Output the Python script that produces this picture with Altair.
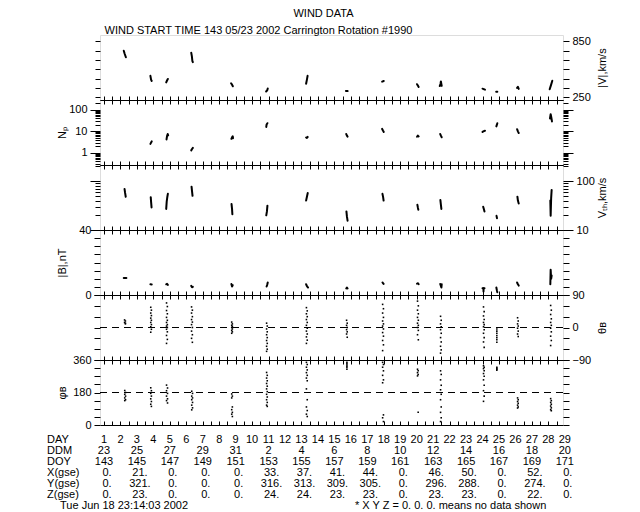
import altair as alt
import pandas as pd

FONT = "Liberation Sans"
W = 463          # plot width (px)
PH = 65          # height of one panel (px)
NPAN = 6
X_DOMAIN = [0.757, 28.89]          # day-of-rotation axis
X_TICKS = [1.0 + 0.5 * k for k in range(56)]

# ---------------- data ----------------
# |V| km/s : short traces (t, value)
V_BLOBS = [
    [(2.20, 750), (2.26, 715), (2.33, 680)],
    [(3.82, 480), (3.86, 440), (3.90, 425)],
    [(4.78, 410), (4.83, 430), (4.88, 447)],
    [(6.30, 730), (6.34, 690), (6.37, 640), (6.40, 628)],
    [(8.72, 400), (8.78, 385), (8.83, 368)],
    [(10.85, 312), (10.92, 325), (10.95, 343)],
    [(13.28, 395), (13.33, 440), (13.37, 480)],
    [(15.70, 318), (15.80, 316)],
    [(17.90, 418), (18.00, 425)],
    [(20.02, 390), (20.07, 375), (20.12, 360)],
    [(21.40, 370), (21.45, 395), (21.47, 420), (21.52, 372)],
    [(24.00, 342), (24.10, 335), (24.15, 332)],
    [(24.83, 309), (24.90, 309)],
    [(26.10, 350), (26.15, 362), (26.20, 340)],
    [(28.08, 336), (28.16, 380), (28.24, 427)],
]
# Np (cm^-3)
NP_BLOBS = [
    [(3.82, 2.6), (3.86, 3.0), (3.90, 3.4)],
    [(4.80, 4.2), (4.83, 6.0), (4.87, 7.5), (4.90, 6.5)],
    [(6.30, 1.3), (6.35, 1.5), (6.40, 1.7)],
    [(8.74, 4.5), (8.78, 5.3), (8.82, 5.9), (8.84, 4.8)],
    [(10.86, 16), (10.88, 21), (10.93, 24)],
    [(13.28, 5.2), (13.33, 4.9), (13.38, 5.5)],
    [(15.72, 7.5), (15.76, 6.3), (15.80, 5.7)],
    [(17.90, 13), (17.95, 11), (18.00, 9.4)],
    [(20.02, 5.6), (20.07, 6.3), (20.12, 5.8)],
    [(21.43, 7.5), (21.47, 6.3), (21.52, 5.3)],
    [(24.00, 9.4), (24.08, 10.2), (24.15, 10.7)],
    [(24.84, 17), (24.87, 20), (24.90, 24)],
    [(26.10, 12.6), (26.15, 10), (26.20, 8.4)],
    [(28.10, 40), (28.14, 63), (28.18, 45), (28.22, 29)],
]
# Vth km/s
VTH_BLOBS = [
    [(2.25, 69), (2.28, 58), (2.32, 48)],
    [(3.84, 47), (3.86, 38), (3.89, 29)],
    [(4.78, 27), (4.81, 38), (4.85, 48), (4.88, 55)],
    [(6.32, 77), (6.35, 62), (6.38, 50)],
    [(8.75, 34), (8.78, 27), (8.80, 21)],
    [(10.86, 20), (10.90, 24), (10.93, 31.5)],
    [(13.28, 40), (13.33, 48), (13.38, 57)],
    [(15.73, 24), (15.76, 19), (15.80, 15.5)],
    [(17.92, 55), (17.96, 47), (17.99, 40)],
    [(20.04, 33), (20.07, 29), (20.10, 26)],
    [(21.44, 41), (21.47, 33), (21.50, 27)],
    [(24.04, 30), (24.08, 27), (24.12, 24)],
    [(24.85, 19.5), (24.88, 17.4)],
    [(26.12, 48), (26.15, 40), (26.20, 35)],
    [(28.12, 40), (28.14, 19.5), (28.17, 45), (28.20, 66)],
]
# |B| nT
B_BLOBS = [
    [(2.20, 10.4), (2.36, 10.4)],
    [(3.82, 6.6), (3.90, 6.5)],
    [(4.78, 6.6), (4.83, 6.9), (4.88, 6.2)],
    [(6.30, 5.6), (6.35, 4.8), (6.40, 5.0)],
    [(8.74, 6.8), (8.78, 5.2), (8.82, 6.0)],
    [(10.88, 5.2), (10.92, 6.4), (10.95, 7.7)],
    [(13.28, 6.6), (13.33, 5.5), (13.40, 4.6)],
    [(15.72, 4.0), (15.76, 4.6), (15.80, 4.0)],
    [(17.92, 7.7), (17.96, 7.2), (17.99, 6.8)],
    [(20.02, 7.0), (20.08, 7.2), (20.12, 6.6)],
    [(21.43, 6.8), (21.47, 5.6), (21.50, 4.6), (21.52, 6.6)],
    [(24.00, 4.2), (24.12, 4.2)],
    [(24.06, 4.2), (24.06, 2.1)],
    [(24.84, 4.6), (24.87, 3.0), (24.90, 1.7)],
    [(26.10, 7.7), (26.15, 6.6), (26.20, 5.8)],
    [(28.12, 6.6), (28.14, 15.5), (28.17, 10), (28.20, 12)],
]
# theta_B (deg): dot columns (t, values)
THETA_COLS = [
    (2.25, [21, 14]), (2.30, [18, 12, 10]),
    (3.84, [56, 40, 26, 14, 2, -13]), (3.88, [48, 33, 20, 8, -5]),
    (4.80, [68, 47, 28, 14, 4, -5, -22, -44]), (4.85, [58, 38, 20, 8, 0, -12, -33]),
    (6.32, [57, 40, 22, 8, -10, -30]), (6.37, [48, 30, 15, 0, -20, -41]),
    (8.76, [15, 6, 0, -8, -16]), (8.80, [10, 3, -4, -12]),
    (10.88, [12, -4, -20, -36, -52, -66]), (10.92, [4, -12, -28, -44, -60]),
    (13.30, [55, 38, 22, 6, -10, -26, -44]), (13.35, [46, 30, 14, -2, -18, -35]),
    (15.74, [20, 6, -6, -18]), (15.78, [12, 0, -12, -27]),
    (17.93, [64, 40, 18, 4, -14, -36, -64]), (17.98, [52, 28, 10, -4, -24, -48]),
    (20.05, [73, 48, 28, 12, 0, -20]), (20.10, [60, 38, 20, 6, -8, -34]),
    (21.45, [31, 10, -6, -28, -52, -71]), (21.49, [20, 2, -16, -40, -62]),
    (24.06, [57, 32, 14, 2, -16, -40]), (24.10, [44, 22, 8, -6, -28, -55]),
    (24.87, [-4, -10, -16, -22, -28, -34, -41]),
    (26.13, [27, 10, -2, -18]), (26.17, [18, 4, -10, -25]),
    (28.14, [61, 36, 14, -2, -24, -50]), (28.18, [48, 24, 6, -12, -36]),
]
# phi_B (deg)
PHI_COLS = [
    (2.26, [191, 170, 150, 135]), (2.31, [180, 160, 140]),
    (3.84, [206, 175, 145, 115]), (3.88, [190, 160, 130, 103]),
    (4.80, [221, 190, 160, 135]), (4.86, [205, 175, 145, 122]),
    (6.33, [187, 160, 140, 110, 84]), (6.38, [175, 150, 125, 95]),
    (8.76, [172, 150, 85, 60]), (8.80, [160, 100, 70, 47]),
    (10.88, [291, 260, 230, 200, 170, 140, 110]), (10.92, [275, 245, 215, 185, 155, 125, 103]),
    (13.30, [347, 320, 290, 260, 200, 100, 60]), (13.35, [335, 305, 275, 245, 140, 80, 47]),
    (15.76, [347, 340, 332, 325, 318, 309]),
    (17.93, [347, 320, 275, 234, 40]), (17.98, [335, 300, 250, 56, 19]),
    (20.05, [309, 290, 272]), (20.09, [300, 280, 71]),
    (21.45, [300, 250, 195, 140, 70, 19]), (21.49, [280, 220, 170, 100, 40]),
    (24.06, [328, 312, 285, 250, 190, 131]), (24.10, [320, 300, 270, 220, 160]),
    (24.87, [319, 314, 309, 304]),
    (26.13, [150, 130, 110, 94]), (26.17, [140, 120, 100]),
    (28.14, [146, 125, 105, 85]), (28.18, [135, 115, 95, 79]),
]

# table below the plot
ROW_NAMES = ["DAY", "DDM", "DOY", "X(gse)", "Y(gse)", "Z(gse)"]
DAYS = [1, 2, 3, 4, 5, 6, 7, 8, 9, 10, 11, 12, 13, 14, 15, 16, 17, 18, 19, 20,
        21, 22, 23, 24, 25, 26, 27, 28, 29]
ODD_DAYS = [1, 3, 5, 7, 9, 11, 13, 15, 17, 19, 21, 23, 25, 27, 29]
DDM = [23, 25, 27, 29, 31, 2, 4, 6, 8, 10, 12, 14, 16, 18, 20]
DOY = [143, 145, 147, 149, 151, 153, 155, 157, 159, 161, 163, 165, 167, 169, 171]
XGSE = ["0.", "21.", "0.", "0.", "0.", "33.", "37.", "41.", "44.", "0.", "46.", "50.", "0.", "52.", "0."]
YGSE = ["0.", "321.", "0.", "0.", "0.", "316.", "313.", "309.", "305.", "0.", "296.", "288.", "0.", "274.", "0."]
ZGSE = ["0.", "23.", "0.", "0.", "0.", "24.", "24.", "23.", "23.", "0.", "23.", "23.", "0.", "22.", "0."]
FOOT_LEFT = "Tue Jun 18 23:14:03 2002"
FOOT_RIGHT = "* X Y Z = 0. 0. 0. means no data shown"
HEADER_T = -2.46
FOOT_LEFT_T = -1.67
FOOT_RIGHT_T = 16.25

TITLE = "WIND DATA"
SUBTITLE = "WIND START TIME 143 05/23 2002 Carrington Rotation #1990"

# ticks
V_TICKS = [250, 350, 450, 550, 650, 750, 850]
NP_MAJOR = [1, 10, 100]
NP_MINOR = [0.3, 0.4, 0.5, 0.6, 0.7, 0.8, 0.9, 2, 3, 4, 5, 6, 7, 8, 9,
            20, 30, 40, 50, 60, 70, 80, 90, 200]
VTH_MAJOR = [10, 100]
VTH_MINOR = [20, 30, 40, 50, 60, 70, 80, 90, 200]
B_TICKS = [0, 5, 10, 15, 20, 25, 30, 35, 40]
TH_TICKS = [-90, -60, -30, 0, 30, 60, 90]
PHI_TICKS = [0, 45, 90, 135, 180, 225, 270, 315, 360]


# ---------------- helpers ----------------
def blobs_df(blobs):
    rows = []
    for i, blob in enumerate(blobs):
        for t, v in blob:
            rows.append({"seg": i, "t": t, "v": v})
    return pd.DataFrame(rows)


def cols_df(cols):
    rows = []
    for t, vals in cols:
        for v in vals:
            rows.append({"t": t, "v": v})
    return pd.DataFrame(rows)


def xs():
    return alt.Scale(domain=X_DOMAIN, nice=False, zero=False)


def fmt(v):
    return ("\u2212" + str(abs(v))) if v < 0 else str(v)


def label_expr(vals):
    s = ""
    for v in vals:
        s += f"datum.value == {v} ? '{fmt(v)}' : "
    return s + "''"


def x_axis_up(edge):      # axis line at pixel row `edge`, ticks pointing up
    return alt.Axis(orient="top", offset=-edge, values=X_TICKS, tickSize=4,
                    tickColor="black", labels=False, title=None, domain=True,
                    domainColor="black", grid=False)


def x_axis_down(edge):    # axis line at pixel row `edge`, ticks pointing down
    return alt.Axis(orient="bottom", offset=-(NPAN * PH - edge), values=X_TICKS,
                    tickSize=4, tickColor="black", labels=False, title=None,
                    domain=True, domainColor="black", grid=False)


def title_axis(text, tx, ty, align):
    return alt.Axis(orient="top", ticks=False, labels=False, domain=False, grid=False,
                    title=text, titleX=tx, titleY=ty, titleAlign=align,
                    titleBaseline="alphabetic", titleFont=FONT, titleFontSize=11,
                    titleFontWeight="normal", titleColor="black")


def y_axis(p, orient, values, size, labels=None, title=None):
    kw = dict(orient=orient, values=values, tickSize=size, tickColor="black",
              domain=False, grid=False, labelOverlap=False, labelFlush=False)
    if labels:
        kw.update(labelExpr=label_expr(labels), labelFont=FONT, labelFontSize=11,
                  labelColor="black", labelPadding=3)
    else:
        kw["labels"] = False
    if title:
        kw.update(title=title, titleX=(-38 if orient == "left" else 39),
                  titleY=PH * p + PH / 2, titleAngle=270, titleBaseline="middle",
                  titleAlign="center", titleFont=FONT, titleFontSize=11,
                  titleFontWeight="normal", titleColor="black")
    else:
        kw["title"] = None
    return alt.Axis(**kw)


def yscale(p, kind, domain):
    if kind == "log":
        return alt.Scale(type="log", domain=domain, range=[PH * (p + 1), PH * p], nice=False)
    return alt.Scale(domain=domain, range=[PH * (p + 1), PH * p], nice=False, zero=False)


PANELS = [
    dict(df=blobs_df(V_BLOBS), mark="line", kind="linear", domain=[220, 920],
         yaxes=lambda p: [y_axis(p, "left", V_TICKS, 5),
                          y_axis(p, "right", V_TICKS, 6, [250, 850], "|V|,km/s")]),
    dict(df=blobs_df(NP_BLOBS), mark="line", kind="log", domain=[0.27, 290],
         yaxes=lambda p: [y_axis(p, "left", NP_MAJOR, 10, NP_MAJOR, "N\u209a"),
                          y_axis(p, "left", NP_MINOR, 5),
                          y_axis(p, "right", NP_MAJOR, 10),
                          y_axis(p, "right", NP_MINOR, 5)]),
    dict(df=blobs_df(VTH_BLOBS), mark="line", kind="log", domain=[10, 214],
         yaxes=lambda p: [y_axis(p, "left", VTH_MAJOR, 10),
                          y_axis(p, "left", VTH_MINOR, 5),
                          y_axis(p, "right", VTH_MAJOR, 10, VTH_MAJOR, "V\u209c\u2095,km/s"),
                          y_axis(p, "right", VTH_MINOR, 5)]),
    dict(df=blobs_df(B_BLOBS), mark="line", kind="linear", domain=[0, 40],
         yaxes=lambda p: [y_axis(p, "left", B_TICKS, 6, [0, 40], "|B|,nT"),
                          y_axis(p, "right", B_TICKS, 6)]),
    dict(df=cols_df(THETA_COLS), mark="dots", kind="linear", domain=[-90, 90], dash=0,
         yaxes=lambda p: [y_axis(p, "left", TH_TICKS, 6),
                          y_axis(p, "right", TH_TICKS, 6, [-90, 0, 90], "\u03b8\u0299")]),
    dict(df=cols_df(PHI_COLS), mark="dots", kind="linear", domain=[0, 360], dash=180,
         yaxes=lambda p: [y_axis(p, "left", PHI_TICKS, 6, [0, 180, 360], "\u03c6\u0299"),
                          y_axis(p, "right", PHI_TICKS, 6)]),
]

layers = []
for p, spec in enumerate(PANELS):
    ysc = lambda: yscale(p, spec["kind"], spec["domain"])
    x_axes = [x_axis_up(PH * (p + 1))]
    if p == 0:
        x_axes.append(title_axis(SUBTITLE, 4, -2, "left"))
        x_axes.append(title_axis(TITLE, 223, -19, "center"))
    else:
        x_axes.append(x_axis_down(PH * p))
    y_axes = spec["yaxes"](p)
    n = max(len(x_axes), len(y_axes))
    for i in range(n):
        xa = x_axes[i] if i < len(x_axes) else None
        ya = y_axes[i] if i < len(y_axes) else None
        enc = dict(x=alt.X("t:Q", scale=xs(), axis=xa),
                   y=alt.Y("v:Q", scale=ysc(), axis=ya))
        base = alt.Chart(spec["df"])
        if i == 0:
            if spec["mark"] == "line":
                lay = base.mark_line(color="black", strokeWidth=2, strokeCap="round",
                                     strokeJoin="round").encode(detail="seg:N", **enc)
            else:
                lay = base.mark_square(color="black", size=2.5, opacity=1).encode(**enc)
        else:
            lay = base.mark_point(opacity=0).encode(**enc)
        layers.append(lay)
    if "dash" in spec:
        layers.append(
            alt.Chart(pd.DataFrame({"v": [spec["dash"]]}))
            .mark_rule(color="black", strokeWidth=1, strokeDash=[7, 5])
            .encode(y=alt.Y("v:Q", scale=ysc(), axis=None))
        )

# ---------------- table below ----------------
ROW_SCALE = alt.Scale(domain=[0, 6], range=[405, 470.5], nice=False, zero=False)


def text_layer(df, align, dx=0):
    return alt.Chart(df).mark_text(align=align, baseline="middle", font=FONT, fontSize=11,
                                   color="black", dx=dx).encode(
        x=alt.X("t:Q", scale=xs(), axis=None),
        y=alt.Y("r:Q", scale=ROW_SCALE, axis=None),
        text="s:N")


hdr_df = pd.DataFrame({"t": [HEADER_T] * 6, "r": [0, 1, 2, 3, 4, 5], "s": ROW_NAMES})
val_rows = []
for d in DAYS:
    val_rows.append({"t": d, "r": 0, "s": str(d)})
for d, a, b in zip(ODD_DAYS, DDM, DOY):
    val_rows.append({"t": d, "r": 1, "s": str(a)})
    val_rows.append({"t": d, "r": 2, "s": str(b)})
xyz_rows = []
for d, a, b, c in zip(ODD_DAYS, XGSE, YGSE, ZGSE):
    xyz_rows.append({"t": d, "r": 3, "s": a})
    xyz_rows.append({"t": d, "r": 4, "s": b})
    xyz_rows.append({"t": d, "r": 5, "s": c})
foot_df = pd.DataFrame({"t": [FOOT_LEFT_T, FOOT_RIGHT_T], "r": [6, 6],
                        "s": [FOOT_LEFT, FOOT_RIGHT]})

layers.append(text_layer(hdr_df, "left"))
layers.append(text_layer(pd.DataFrame(val_rows), "center"))
layers.append(text_layer(pd.DataFrame(xyz_rows), "center", dx=3))
layers.append(text_layer(foot_df, "left"))

chart = (
    alt.layer(*layers)
    .resolve_scale(y="independent")
    .resolve_axis(x="independent", y="independent")
    .properties(width=W, height=NPAN * PH,
                autosize=alt.AutoSizeParams(type="none"),
                padding={"left": 92, "top": 27, "right": 60, "bottom": 88})
    .configure_view(stroke="black", strokeWidth=1)
    .configure(background="white")
)

chart.save("out.html", embed_options={"renderer": "svg", "actions": False})
